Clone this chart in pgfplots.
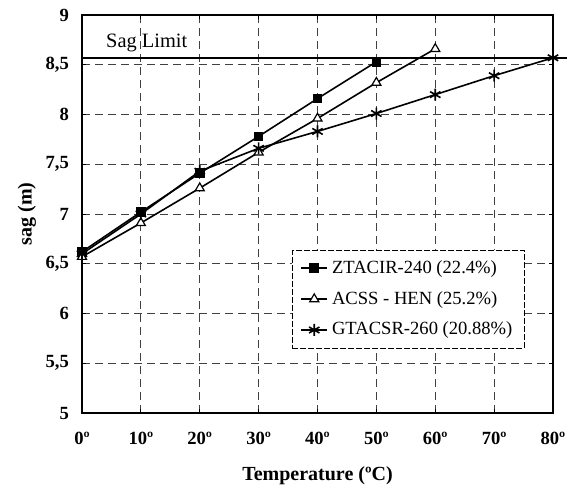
\documentclass[border=0pt]{standalone}
\usepackage{fontspec}
\setmainfont{Liberation Serif}
\usepackage{pgfplots}
\pgfplotsset{compat=1.18}
\begin{document}
\begin{tikzpicture}
\begin{axis}[
  scale only axis, width=235.5pt, height=199pt,
  xmin=0, xmax=80, ymin=5, ymax=9,
  xtick={0,10,...,80},
  xticklabels={0º,10º,20º,30º,40º,50º,60º,70º,80º},
  ytick={5,5.5,6,6.5,7,7.5,8,8.5,9},
  /pgf/number format/assume math mode=true,
  /pgf/number format/use comma,
  tick label style={font=\fontsize{9.3}{11}\bfseries\selectfont},
  xticklabel style={yshift=-6pt},
  yticklabel style={xshift=-3pt},
  major tick length=2pt,
  tick style={black, line width=0.5pt},
  axis line style={line width=1pt},
  grid=major,
  major grid style={black!75, line width=0.45pt, dash pattern=on 4pt off 2.5pt},
  xlabel={\bfseries Temperature (ºC)},
  ylabel={\bfseries sag (m)},
  label style={font=\fontsize{10}{12}\bfseries\selectfont},
  xlabel style={yshift=-4pt},
  ylabel style={yshift=-2pt},
  clip=false,
  legend cell align=left,
  legend style={at={(rel axis cs:0.446,0.41)}, anchor=north west,
    draw=black, line width=0.4pt, dash pattern=on 3pt off 1pt,
    font=\fontsize{9.3}{11}\selectfont, row sep=3.5pt,
    inner xsep=4pt, inner ysep=3pt},
  legend image code/.code={\draw[mark repeat=2,mark phase=2,#1] plot coordinates {(0pt,0pt)(6.5pt,0pt)(13pt,0pt)};},
]
\addplot[black, line width=0.8pt, mark=square*, mark size=2pt, mark options={solid, fill=black}]
  coordinates {(0,6.62)(10,7.02)(20,7.41)(30,7.78)(40,8.16)(50,8.53)};
\addlegendentry{ZTACIR-240 (22.4\%)}
\addplot[black, line width=0.8pt, mark=triangle*, mark size=2.6pt, mark options={solid, fill=white, line width=0.6pt}]
  coordinates {(0,6.57)(10,6.91)(20,7.26)(30,7.62)(40,7.96)(50,8.32)(60,8.66)};
\addlegendentry{ACSS - HEN (25.2\%)}
\addplot[black, line width=0.8pt, mark=asterisk, mark size=3pt, mark options={solid, line width=0.8pt}]
  coordinates {(0,6.60)(10,7.00)(20,7.43)(30,7.66)(40,7.83)(50,8.01)(60,8.20)(70,8.39)(80,8.57)};
\addlegendentry{GTACSR-260 (20.88\%)}
\addplot[black, line width=1pt, forget plot] coordinates {(0,8.57)(82.3,8.57)};
\node[font=\fontsize{10.2}{12}\selectfont] at (axis cs:11,8.72) {Sag Limit};
\end{axis}
\pgfresetboundingbox
\path[use as bounding box] (-41pt,-40.5pt) rectangle (242.5pt,206.5pt);
\end{tikzpicture}
\end{document}
